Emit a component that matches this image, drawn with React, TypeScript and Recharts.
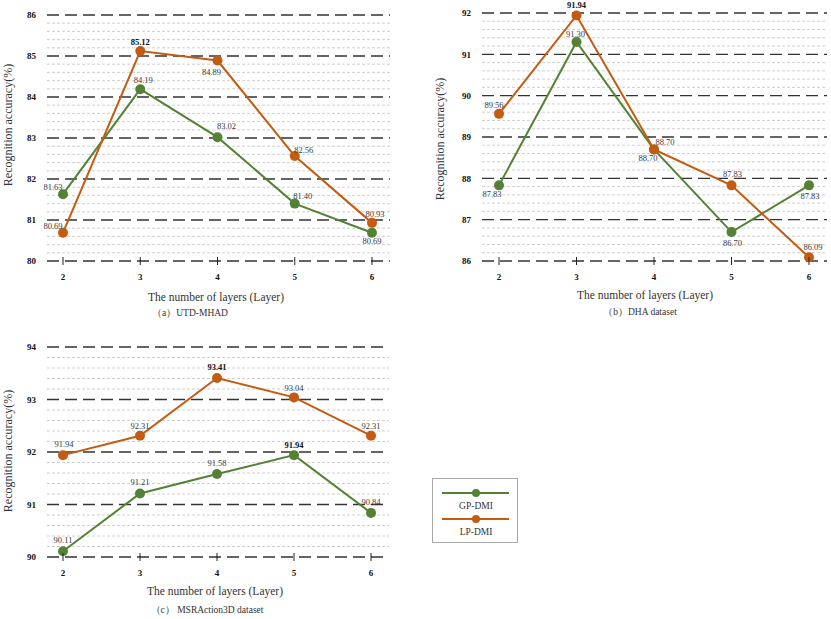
import React from 'react';
import { LineChart, Line, XAxis, YAxis, ReferenceLine } from 'recharts';

const layers = [2, 3, 4, 5, 6];

// (a) UTD-MHAD
const utdGp = [81.63, 84.19, 83.02, 81.4, 80.69];
const utdLp = [80.69, 85.12, 84.89, 82.56, 80.93];
const utdTicks = [80, 81, 82, 83, 84, 85, 86];

// (b) DHA dataset
const dhaGp = [87.83, 91.3, 88.7, 86.7, 87.83];
const dhaLp = [89.56, 91.94, 88.7, 87.83, 86.09];
const dhaTicks = [86, 87, 88, 89, 90, 91, 92];

// (c) MSRAction3D dataset
const msrGp = [90.11, 91.21, 91.58, 91.94, 90.84];
const msrLp = [91.94, 92.31, 93.41, 93.04, 92.31];
const msrTicks = [90, 91, 92, 93, 94];

// indexes of values printed in bold
const utdGpBold: number[] = [];
const utdLpBold = [1];
const dhaGpBold: number[] = [];
const dhaLpBold = [1];
const msrGpBold = [3];
const msrLpBold = [2];

// where each value label sits relative to its point (px)
const utdGpShift = [[-10, -7], [3, -9], [9, -11], [8, -8], [0, 8]];
const utdLpShift = [[-10, -7], [0, -9], [-6, 11], [9, -6], [3, -9]];
const dhaGpShift = [[-7, 9], [-1, -8], [-6, 9], [1, 11], [1, 11]];
const dhaLpShift = [[-5, -9], [0, -10], [11, -7], [1, -11], [4, -10]];
const msrGpShift = [[0, -11], [0, -11], [0, -11], [0, -10], [0, -11]];
const msrLpShift = [[1, -11], [0, -10], [0, -11], [0, -9], [0, -10]];

const GREEN = '#548235';
const ORANGE = '#C55A11';
const SERIF = "'Times New Roman', 'Liberation Serif', Times, serif";

const XTick = (props: any) => {
  const { x, y, payload } = props;
  return (
    <g>
      <line x1={x} x2={x} y1={y - 4} y2={y + 4} stroke="#222" strokeWidth={1} />
      <text x={x} y={y + 19} textAnchor="middle" fontSize={9} fontWeight="bold" fill="#111" style={{ fontFamily: SERIF }}>
        {payload.value}
      </text>
    </g>
  );
};

const makeDot = (color: string, bold: number[], shift: number[][]) => (props: any) => {
  const { cx, cy, index, value } = props;
  const [dx, dy] = shift[index];
  const isBold = bold.includes(index);
  return (
    <g key={`d-${color}-${index}`}>
      <circle cx={cx} cy={cy} r={5} fill={color} />
      <text
        x={cx + dx}
        y={cy + dy + 3}
        textAnchor="middle"
        fontSize={8.5}
        fontWeight={isBold ? 'bold' : 'normal'}
        fill={isBold ? '#111' : '#3a3a3a'}
        style={{ fontFamily: SERIF }}
      >
        {Number(value).toFixed(2)}
      </text>
    </g>
  );
};

type PanelProps = {
  gp: number[];
  lp: number[];
  ticks: number[];
  gpBold: number[];
  lpBold: number[];
  gpShift: number[][];
  lpShift: number[][];
  left: number;
  top: number;
  width: number;
  height: number;
  margin: { top: number; right: number; left: number; bottom: number };
  padding: { left: number; right: number };
};

const Panel = (p: PanelProps) => {
  const data = layers.map((layer, i) => ({ layer, gp: p.gp[i], lp: p.lp[i] }));
  const lo = p.ticks[0];
  const hi = p.ticks[p.ticks.length - 1];
  const minor: number[] = [];
  for (let v = lo; v < hi; v += 1) {
    for (let k = 1; k < 5; k++) minor.push(+(v + k * 0.2).toFixed(1));
  }
  return (
    <div style={{ position: 'absolute', left: p.left, top: p.top }}>
      <LineChart width={p.width} height={p.height} data={data} margin={p.margin} style={{ fontFamily: SERIF }}>
        <XAxis
          dataKey="layer"
          interval={0}
          padding={p.padding}
          axisLine={false}
          tickLine={false}
          tickSize={0}
          tickMargin={0}
          height={25}
          tick={<XTick />}
        />
        <YAxis
          domain={[lo, hi]}
          ticks={p.ticks}
          width={47}
          axisLine={false}
          tickLine={false}
          tickSize={0}
          tickMargin={11}
          tick={{ fontSize: 9, fontWeight: 'bold', fill: '#111', style: { fontFamily: SERIF } }}
        />
        {minor.map((v) => (
          <ReferenceLine key={`m${v}`} y={v} stroke="#c4c4c4" strokeWidth={0.8} strokeDasharray="3 2" />
        ))}
        {p.ticks.map((v) => (
          <ReferenceLine key={`M${v}`} y={v} stroke="#333" strokeWidth={1.4} strokeDasharray="12 6" />
        ))}
        <Line
          dataKey="gp"
          stroke={GREEN}
          strokeWidth={2}
          isAnimationActive={false}
          dot={makeDot(GREEN, p.gpBold, p.gpShift)}
          activeDot={false}
        />
        <Line
          dataKey="lp"
          stroke={ORANGE}
          strokeWidth={2}
          isAnimationActive={false}
          dot={makeDot(ORANGE, p.lpBold, p.lpShift)}
          activeDot={false}
        />
      </LineChart>
    </div>
  );
};

const Txt = ({ x, y, size, children, rotate }: any) => (
  <div
    style={{
      position: 'absolute',
      left: x,
      top: y,
      transform: `translate(-50%, -50%)${rotate ? ' rotate(-90deg)' : ''}`,
      whiteSpace: 'nowrap',
      fontFamily: SERIF,
      fontSize: size,
      color: '#333',
      lineHeight: 1,
    }}
  >
    {children}
  </div>
);

export default function App() {
  return (
    <div
      style={{
        position: 'absolute',
        left: 0,
        top: 0,
        width: 831,
        height: 619,
        background: '#fff',
        overflow: 'hidden',
        fontFamily: SERIF,
      }}
    >
      <Panel
        gp={utdGp} lp={utdLp} ticks={utdTicks}
        gpBold={utdGpBold} lpBold={utdLpBold} gpShift={utdGpShift} lpShift={utdLpShift}
        left={0} top={0} width={400} height={290}
        margin={{ top: 15, right: 10, left: 0, bottom: 4 }}
        padding={{ left: 16, right: 18 }}
      />
      <Panel
        gp={dhaGp} lp={dhaLp} ticks={dhaTicks}
        gpBold={dhaGpBold} lpBold={dhaLpBold} gpShift={dhaGpShift} lpShift={dhaLpShift}
        left={420} top={0} width={411} height={290}
        margin={{ top: 13, right: 4, left: 15, bottom: 4 }}
        padding={{ left: 17, right: 18 }}
      />
      <Panel
        gp={msrGp} lp={msrLp} ticks={msrTicks}
        gpBold={msrGpBold} lpBold={msrLpBold} gpShift={msrGpShift} lpShift={msrLpShift}
        left={0} top={330} width={400} height={256}
        margin={{ top: 17, right: 11, left: 0, bottom: 4 }}
        padding={{ left: 16, right: 18 }}
      />

      <Txt x={8} y={125} size={12} rotate>Recognition accuracy(%)</Txt>
      <Txt x={216} y={298} size={11.5}>The number of layers (Layer)</Txt>
      <Txt x={190} y={314} size={9.5}>（a）UTD-MHAD</Txt>

      <Txt x={440} y={139} size={12} rotate>Recognition accuracy(%)</Txt>
      <Txt x={645} y={296} size={11.5}>The number of layers (Layer)</Txt>
      <Txt x={640} y={313} size={9.5}>（b）DHA dataset</Txt>

      <Txt x={8} y={451} size={12} rotate>Recognition accuracy(%)</Txt>
      <Txt x={215} y={592} size={11.5}>The number of layers (Layer)</Txt>
      <Txt x={207} y={611} size={9.5}>（c） MSRAction3D dataset</Txt>

      <div
        style={{
          position: 'absolute',
          left: 432,
          top: 478,
          width: 84,
          height: 63,
          border: '1px solid #aaa',
        }}
      >
        <svg width={84} height={63} style={{ position: 'absolute', left: 0, top: 0 }}>
          <line x1={9} x2={76} y1={14} y2={14} stroke={GREEN} strokeWidth={2} />
          <circle cx={43} cy={14} r={4} fill={GREEN} />
          <line x1={9} x2={76} y1={40} y2={40} stroke={ORANGE} strokeWidth={2} />
          <circle cx={43} cy={40} r={4} fill={ORANGE} />
          <text x={43} y={30} textAnchor="middle" fontSize={9.5} fill="#333" style={{ fontFamily: SERIF }}>GP-DMI</text>
          <text x={43} y={56} textAnchor="middle" fontSize={9.5} fill="#333" style={{ fontFamily: SERIF }}>LP-DMI</text>
        </svg>
      </div>
    </div>
  );
}
